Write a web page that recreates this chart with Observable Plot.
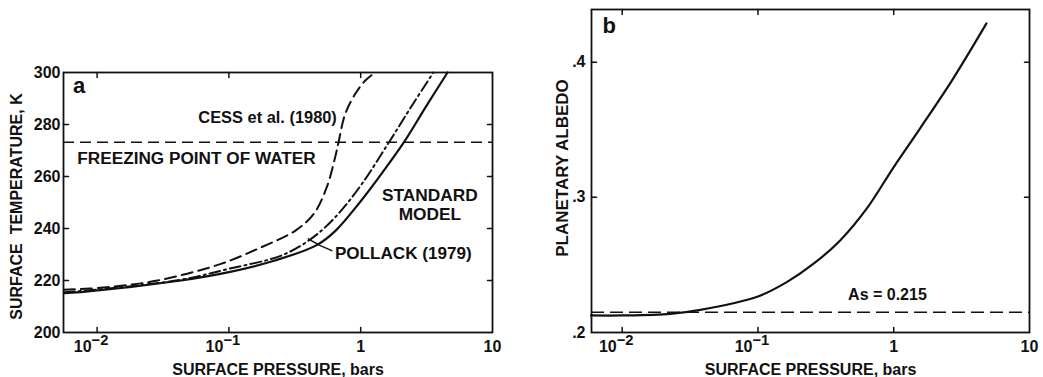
<!DOCTYPE html>
<html><head><meta charset="utf-8">
<script src="https://cdn.jsdelivr.net/npm/d3@7"></script>
<script src="https://cdn.jsdelivr.net/npm/@observablehq/plot@0.6"></script>
<style>
html,body{margin:0;padding:0;background:#fff;}
#wrap{position:relative;width:1043px;height:377px;overflow:hidden;background:#fff;}
#wrap > svg{position:absolute;top:0;}
</style></head><body><div id="wrap"></div>
<script>
// ---------- Panel a: surface temperature vs surface pressure ----------
const stdP  = [0.0056, 0.0075, 0.0433, 0.1, 0.223, 0.46, 0.64, 1.0, 1.46, 2.13, 3.11, 4.56];
const stdT  = [215.1, 215.5, 220.0, 223.2, 227.7, 233.5, 239.0, 250.5, 261.5, 273.2, 286.7, 300.0];
const polP  = [0.0056, 0.01, 0.0433, 0.1, 0.25, 0.42, 0.64, 1.0, 1.64, 2.5, 3.56];
const polT  = [215.5, 216.5, 220.3, 224.5, 229.6, 236.0, 244.3, 256.5, 273.2, 288.0, 300.0];
const cessP = [0.0056, 0.0119, 0.0287, 0.087, 0.176, 0.32, 0.44, 0.553, 0.64, 0.679, 0.762, 0.91, 1.084, 1.29];
const cessT = [216.4, 217.4, 220.0, 226.4, 232.8, 239.2, 245.6, 255.9, 267.4, 273.2, 284.0, 291.8, 296.9, 300.0];
const freezingK = 273.15;
const leaderP = [0.40, 0.489, 0.604];
const leaderT = [236.0, 233.5, 231.5];

// ---------- Panel b: planetary albedo vs surface pressure ----------
const albP = [0.0059, 0.01, 0.0226, 0.0376, 0.1, 0.163, 0.257, 0.403, 0.632, 1.0, 1.56, 2.74, 4.82];
const albA = [0.2126, 0.2126, 0.2138, 0.2168, 0.2267, 0.2373, 0.2509, 0.2681, 0.2916, 0.3224, 0.3509, 0.3879, 0.4287];
const surfaceAlbedo = 0.215;

// ---------- ticks ----------
const xTicks = [0.01, 0.1, 1, 10];
const xTickLabels = ["10^\u22122", "10^\u22121", "1", "10"];
const yTicksA = [200, 220, 240, 260, 280, 300];
const yTicksB = [0.2, 0.3, 0.4];
const yTickLabelsB = [".2", ".3", ".4"];

const FONT = "'Liberation Sans', Arial, Helvetica, sans-serif";
const INK = "#111";
const zip = (xs, ys) => xs.map((x, i) => ({x, y: ys[i]}));
const tickShape = {draw(ctx, l) { ctx.moveTo(0, 0); ctx.lineTo(0, -l); }};

function inward(xs, ys, xd, yd) {
  const o = {length: 5, anchor: "start", shape: tickShape, stroke: INK, strokeWidth: 1.5};
  return [
    Plot.vector(xs, {...o, x: d => d, y: yd[0], rotate: 0}),
    Plot.vector(xs, {...o, x: d => d, y: yd[1], rotate: 180}),
    Plot.vector(ys, {...o, x: xd[0], y: d => d, rotate: 90}),
    Plot.vector(ys, {...o, x: xd[1], y: d => d, rotate: -90})
  ];
}

function superscripts(svg) {
  svg.querySelectorAll('g[aria-label="x-axis tick label"] text').forEach(t => {
    const s = t.textContent;
    const k = s.indexOf("^");
    if (k < 0) return;
    t.textContent = s.slice(0, k);
    const ts = document.createElementNS("http://www.w3.org/2000/svg", "tspan");
    ts.setAttribute("dy", "-0.45em");
    ts.setAttribute("font-size", "0.92em");
    ts.textContent = s.slice(k + 1);
    t.appendChild(ts);
    t.setAttribute("dx", "-6");
  });
}

const style = {fontFamily: FONT, fontSize: "16px", fontWeight: "bold", color: INK, background: "transparent", overflow: "visible"};
const curve = "catmull-rom";

// ----- panel a -----
const xdA = [0.00556, 10], ydA = [200, 300];
const plotA = Plot.plot({
  width: 520, height: 377,
  marginLeft: 63, marginRight: 28, marginTop: 72, marginBottom: 45,
  style,
  x: {type: "log", domain: xdA},
  y: {domain: ydA},
  marks: [
    Plot.axisX(xTicks, {anchor: "bottom", tickSize: 0, tickPadding: 8, label: null,
      tickFormat: d => xTickLabels[xTicks.indexOf(d)]}),
    Plot.axisY(yTicksA, {anchor: "left", tickSize: 0, tickPadding: 3, label: null, tickFormat: d => String(d)}),
    ...inward([0.01, 0.1, 1], [220, 240, 260, 280], xdA, ydA),
    Plot.ruleY([freezingK], {stroke: INK, strokeWidth: 1.4, strokeDasharray: "11,6"}),
    Plot.line(zip(cessP, cessT), {x: "x", y: "y", curve, stroke: INK, strokeWidth: 2, strokeDasharray: "11,6"}),
    Plot.line(zip(polP, polT), {x: "x", y: "y", curve, stroke: INK, strokeWidth: 2, strokeDasharray: "11,4,2,4"}),
    Plot.line(zip(stdP, stdT), {x: "x", y: "y", curve, stroke: INK, strokeWidth: 2.2}),
    Plot.line(zip(leaderP, leaderT), {x: "x", y: "y", stroke: INK, strokeWidth: 1.5}),
    Plot.text(["a"], {x: 0.00656, y: 292.3, textAnchor: "start", lineAnchor: "bottom", fontSize: 22, fill: INK}),
    Plot.text(["CESS et al. (1980)"], {x: 0.659, y: 280.4, textAnchor: "end", lineAnchor: "bottom", fontSize: 16.4, fill: INK}),
    Plot.text(["FREEZING POINT OF WATER"], {x: 0.00708, y: 265, textAnchor: "start", lineAnchor: "bottom", fontSize: 17.2, fill: INK}),
    Plot.text(["STANDARD\nMODEL"], {x: 3.35, y: 243.1, textAnchor: "middle", lineAnchor: "bottom", lineHeight: 1.1, fontSize: 17.3, fill: INK}),
    Plot.text(["POLLACK (1979)"], {x: 0.637, y: 228.1, textAnchor: "start", lineAnchor: "bottom", fontSize: 17.1, fill: INK}),
    Plot.text(["SURFACE PRESSURE, bars"], {frameAnchor: "bottom", dy: 42, lineAnchor: "bottom", textAnchor: "middle", fill: INK}),
    Plot.text(["SURFACE  TEMPERATURE, K"], {frameAnchor: "left", dx: -42, dy: 4, rotate: -90, lineAnchor: "bottom", textAnchor: "middle", fill: INK}),
    Plot.frame({stroke: INK, strokeWidth: 1.8})
  ]
});

// ----- panel b -----
const xdB = [0.00594, 10], ydB = [0.2, 0.439];
const plotB = Plot.plot({
  width: 523, height: 377,
  marginLeft: 71, marginRight: 14, marginTop: 9, marginBottom: 45,
  style,
  x: {type: "log", domain: xdB},
  y: {domain: ydB},
  marks: [
    Plot.axisX(xTicks, {anchor: "bottom", tickSize: 0, tickPadding: 8, label: null,
      tickFormat: d => xTickLabels[xTicks.indexOf(d)]}),
    Plot.axisY(yTicksB, {anchor: "left", tickSize: 0, tickPadding: 6, label: null,
      tickFormat: d => yTickLabelsB[yTicksB.indexOf(d)]}),
    ...inward([0.01, 0.1, 1], [0.3, 0.4], xdB, ydB),
    Plot.ruleY([surfaceAlbedo], {stroke: INK, strokeWidth: 1.6, strokeDasharray: "13,6"}),
    Plot.line(zip(albP, albA), {x: "x", y: "y", curve, stroke: INK, strokeWidth: 2.2}),
    Plot.text(["b"], {x: 0.00716, y: 0.4215, textAnchor: "start", lineAnchor: "bottom", fontSize: 22, fill: INK}),
    Plot.text(["As = 0.215"], {x: 0.461, y: 0.2237, textAnchor: "start", lineAnchor: "bottom", fill: INK}),
    Plot.text(["SURFACE PRESSURE, bars"], {frameAnchor: "bottom", dy: 42, lineAnchor: "bottom", textAnchor: "middle", fill: INK}),
    Plot.text(["PLANETARY ALBEDO"], {frameAnchor: "left", dx: -24, dy: -3, rotate: -90, lineAnchor: "bottom", textAnchor: "middle", fontSize: 17, fill: INK}),
    Plot.frame({stroke: INK, strokeWidth: 1.8})
  ]
});

superscripts(plotA);
superscripts(plotB);
plotA.style.left = "0px";
plotB.style.left = "520px";
const wrap = document.getElementById("wrap");
wrap.appendChild(plotA);
wrap.appendChild(plotB);
</script>
</body></html>
